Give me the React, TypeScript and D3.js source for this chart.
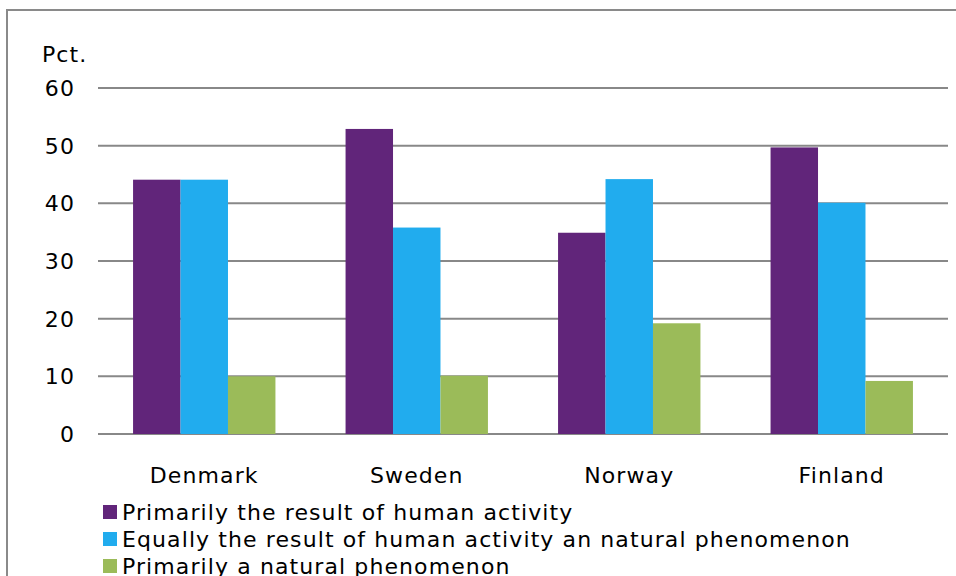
import React from "react";
import * as d3 from "d3";

const categories = ["Denmark", "Sweden", "Norway", "Finland"];
const seriesNames = [
  "Primarily the result of human activity",
  "Equally the result of human activity an natural phenomenon",
  "Primarily a natural phenomenon",
];
const humanActivity = [44.1, 52.9, 34.9, 49.7];
const equally = [44.1, 35.8, 44.2, 40.1];
const natural = [10.0, 10.1, 19.2, 9.2];
const yTicks = [0, 10, 20, 30, 40, 50, 60];
const colors = ["#61257a", "#21acee", "#9bbb59"];

export default function App() {
  const W = 956, H = 576;
  const left = 98, right = 948, top = 88, bottom = 434;
  const font = "'DejaVu Sans', Verdana, sans-serif";
  const fs = 22;
  const ls = 1.1;
  const series = [humanActivity, equally, natural];
  const y = d3.scaleLinear().domain([0, 60]).range([bottom, top]);
  const x0 = d3.scaleBand().domain(categories).range([left, right]).paddingInner(0.33).paddingOuter(0.165);
  const x1 = d3.scaleBand().domain(["0", "1", "2"]).range([0, x0.bandwidth()]);
  return (
    <svg width={W} height={H} style={{ position: "absolute", left: 0, top: 0 }}>
      <rect x={0} y={0} width={W} height={H} fill="#fff" />
      <rect x={7} y={10} width={W + 10} height={H} fill="none" stroke="#8a8a8a" strokeWidth={2} />
      <text x={42} y={62} fontFamily={font} fontSize={fs} letterSpacing={ls} fill="#000">Pct.</text>
      {yTicks.map((t) => (
        <g key={t}>
          <line x1={left} x2={right} y1={y(t)} y2={y(t)} stroke="#888" strokeWidth={2} />
          <text x={75} y={y(t) + 8} textAnchor="end" fontFamily={font} fontSize={fs} letterSpacing={ls} fill="#000">{t}</text>
        </g>
      ))}
      {categories.map((c, i) => (
        <g key={c} transform={`translate(${x0(c)},0)`}>
          {series.map((s, j) => (
            <rect key={j} x={x1(String(j))} y={y(s[i])} width={x1.bandwidth()} height={y(0) - y(s[i])} fill={colors[j]} />
          ))}
          <text x={x0.bandwidth() / 2} y={483} textAnchor="middle" fontFamily={font} fontSize={fs} letterSpacing={ls} fill="#000">{c}</text>
        </g>
      ))}
      {seriesNames.map((n, j) => (
        <g key={n} transform={`translate(103,${505 + j * 27})`}>
          <rect x={0} y={0} width={14} height={14} fill={colors[j]} />
          <text x={19} y={15} fontFamily={font} fontSize={fs} letterSpacing={ls} fill="#000">{n}</text>
        </g>
      ))}
    </svg>
  );
}
